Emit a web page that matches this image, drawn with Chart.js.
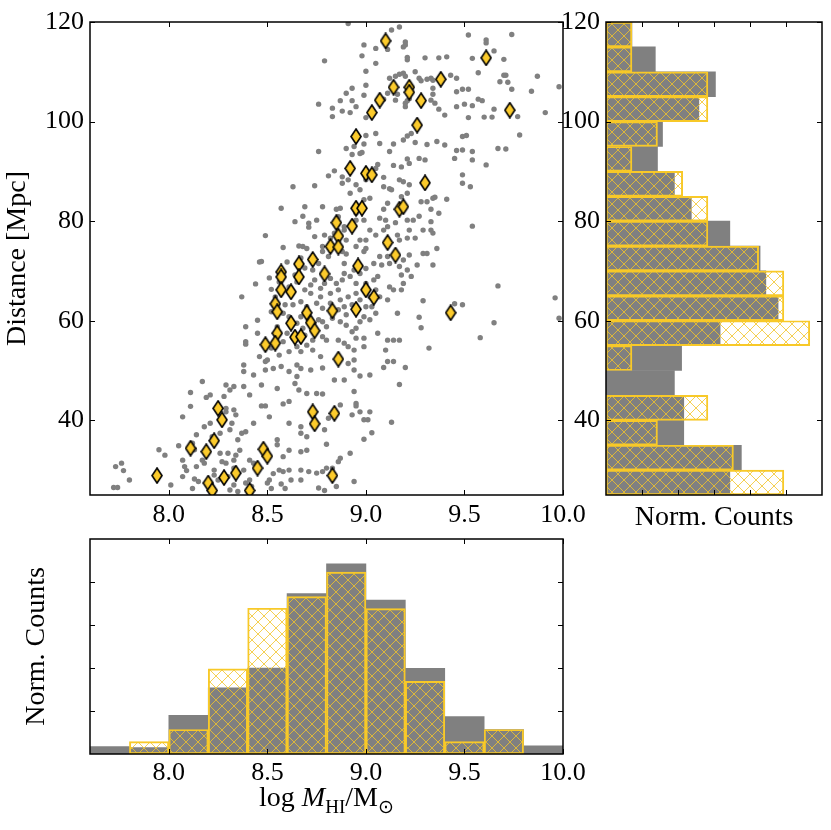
<!DOCTYPE html>
<html>
<head>
<meta charset="utf-8">
<script src="https://cdn.jsdelivr.net/npm/chart.js@4.4.1/dist/chart.umd.min.js"></script>
<style>
  body { margin: 0; background: #fff; }
  #wrap { position: relative; width: 831px; height: 830px; overflow: hidden; }
  canvas { position: absolute; }
  #xlab {
    position: absolute; left: 90px; width: 473px; top: 782px;
    text-align: center; font: 28px 'Liberation Serif', serif; color: #000; line-height: 30px;
  }
  #xlab sub { font-size: 0.68em; vertical-align: -0.35em; line-height: 0; }
</style>
</head>
<body>
<div id="wrap">
  <canvas id="main" width="600" height="540" style="left:0;top:0"></canvas>
  <canvas id="side" width="291" height="540" style="left:540px;top:0"></canvas>
  <canvas id="bottom" width="600" height="310" style="left:0;top:520px"></canvas>
  <div id="xlab">log <i>M</i><sub>HI</sub>/M<sub>⊙</sub></div>
</div>
<script>
// full sample: [log MHI, distance]
const grayPoints = [
  [8.91,119.7],[9.17,119.0],[9.13,118.4],[9.20,116.0],[9.20,115.4],[9.11,114.5],[9.19,115.0],[9.05,114.7],[8.99,115.4],[8.98,113.2],
  [8.79,112.2],[9.21,112.9],[9.21,112.4],[9.30,112.8],[9.37,112.8],[9.41,113.0],[9.05,111.7],[9.00,110.1],[9.12,108.7],[9.15,109.1],
  [9.17,109.5],[9.19,109.7],[9.20,109.1],[9.25,110.0],[9.27,108.7],[9.28,108.2],[9.31,108.5],[9.33,108.7],[9.34,108.3],[9.43,109.3],
  [9.46,108.7],[9.49,106.5],[9.52,106.5],[9.54,112.7],[9.57,109.8],[9.61,116.4],[9.61,115.8],[9.65,114.2],[9.70,112.5],[9.74,117.5],
  [9.52,117.4],[9.70,109.3],[9.71,109.3],[9.68,108.0],[9.72,107.9],[9.74,106.5],[9.87,109.1],[9.84,106.1],[9.98,107.0],[8.90,105.7],
  [8.93,106.7],[9.00,107.3],[8.99,105.3],[8.93,104.2],[8.87,104.2],[8.83,102.7],[8.83,101.0],[8.76,103.5],[8.88,102.1],[8.92,101.8],
  [8.95,103.0],[9.00,100.8],[9.09,104.5],[9.11,105.7],[9.15,104.3],[9.16,105.5],[9.20,103.7],[9.21,104.2],[9.22,104.6],[9.20,103.0],
  [9.34,106.7],[9.34,105.5],[9.33,104.3],[9.35,103.7],[9.37,102.5],[9.40,101.3],[9.46,103.0],[9.50,103.5],[9.54,103.2],[9.57,104.5],
  [9.59,104.2],[9.65,102.5],[9.64,100.9],[9.60,100.9],[9.52,100.8],[9.46,106.0],[9.77,101.0],[9.78,97.3],[9.91,101.8],[9.67,94.6],
  [9.71,94.5],[9.61,91.3],[9.54,92.3],[9.54,94.0],[9.49,94.3],[9.46,94.2],[9.45,92.6],[9.49,89.3],[9.49,87.6],[9.53,86.9],
  [9.51,97.2],[9.49,97.0],[9.40,95.3],[9.36,96.0],[9.31,95.4],[9.25,95.8],[9.23,97.6],[9.21,97.1],[9.19,96.3],[9.14,95.5],
  [9.12,94.0],[9.07,95.6],[9.05,97.6],[9.00,97.2],[8.99,95.5],[8.98,93.8],[8.97,93.6],[8.94,95.0],[8.93,93.4],[8.90,94.6],
  [8.84,90.1],[8.81,89.1],[8.88,88.9],[8.91,88.3],[8.88,87.6],[8.76,94.0],[8.74,87.1],[8.92,85.6],[8.95,87.3],[8.99,84.3],
  [8.97,86.3],[9.02,84.6],[9.00,88.3],[9.06,91.4],[9.05,90.6],[9.09,88.8],[9.09,86.9],[9.12,86.5],[9.13,86.3],[9.14,91.2],
  [9.18,90.9],[9.22,91.6],[9.21,92.5],[9.27,92.6],[9.30,92.3],[9.17,88.3],[9.19,87.9],[9.22,87.3],[9.21,85.6],[9.18,84.9],
  [9.28,83.9],[9.31,83.9],[9.33,82.4],[9.34,84.6],[9.35,84.8],[9.37,81.6],[9.41,84.4],[9.11,83.6],[9.09,82.4],[9.07,80.6],
  [9.10,80.2],[9.11,78.9],[9.15,79.7],[9.21,80.2],[9.24,80.2],[9.22,78.2],[9.29,78.2],[9.27,81.0],[9.33,78.2],[9.34,77.6],
  [9.25,76.6],[9.21,76.6],[9.17,76.2],[9.11,75.5],[9.05,77.2],[9.02,78.2],[8.99,80.2],[9.00,76.2],[8.97,76.2],[8.95,74.9],
  [8.89,78.2],[8.84,77.6],[8.82,76.6],[8.79,77.2],[8.78,74.9],[8.74,76.9],[8.75,80.2],[8.78,82.9],[8.87,82.6],[8.85,82.4],
  [8.89,78.9],[8.86,80.9],[8.95,81.6],[8.95,80.2],[9.09,78.2],[9.16,77.2],[9.36,74.5],[9.54,79.0],[9.33,79.9],[9.00,74.5],
  [8.90,76.2],
  [8.63,86.9],[8.57,82.6],[8.69,82.9],[8.68,81.0],[8.64,79.9],[8.71,79.6],[8.71,78.8],[8.49,77.1],[8.58,74.7],[8.66,75.0],
  [8.68,74.9],[8.70,74.5],
  [7.73,30.7],[7.76,31.4],[7.77,29.9],[7.80,28.0],[7.72,26.5],[7.74,26.5],[7.95,34.1],[7.98,33.0],[7.94,28.7],[8.01,27.0],
  [8.05,34.9],[8.07,32.0],[8.08,30.7],[8.09,29.9],[8.07,28.7],[8.07,40.7],[8.11,45.6],[8.11,42.8],[8.13,34.1],[8.14,37.1],
  [8.12,35.4],[8.13,28.2],[8.15,27.7],[8.14,30.7],[8.12,26.3],
  [8.46,71.8],[8.47,71.9],[8.67,72.6],[8.69,70.6],[8.64,69.2],[8.60,71.8],[8.51,68.6],
  [8.44,67.4],[8.37,64.8],[8.52,66.3],[8.54,64.8],[8.57,65.5],[8.61,66.8],[8.65,67.8],[8.52,61.8],[8.59,63.2],[8.63,63.2],
  [8.67,63.8],[8.67,60.8],[8.65,59.5],[8.60,57.5],[8.58,55.8],[8.61,53.8],[8.65,54.8],[8.67,53.8],[8.70,55.1],[8.56,53.1],
  [8.52,54.5],[8.50,52.1],[8.49,51.8],[8.46,52.8],[8.45,57.5],[8.45,60.1],[8.39,58.8],[8.39,55.8],[8.39,55.3],[8.38,51.1],
  [8.38,49.8],[8.43,49.1],[8.49,50.1],[8.53,50.4],[8.57,50.8],[8.61,49.8],[8.65,51.1],[8.67,50.4],[8.65,48.8],[8.64,47.4],
  [8.66,46.1],[8.70,45.4],[8.55,46.4],[8.47,47.1],[8.41,45.1],[8.38,46.8],[8.33,46.8],[8.31,46.1],[8.29,47.1],[8.28,44.8],
  [8.21,45.1],[8.19,44.6],[8.17,47.8],[8.47,42.9],[8.49,42.9],[8.58,43.3],[8.61,43.8],[8.51,40.7],[8.43,39.4],[8.39,37.7],
  [8.37,37.4],[8.33,42.1],[8.34,41.1],[8.29,42.4],[8.29,41.7],[8.21,39.4],[8.18,38.7],[8.22,36.7],[8.26,37.4],[8.31,38.1],
  [8.32,39.4],[8.35,36.1],[8.36,34.0],[8.34,33.0],[8.30,33.4],[8.26,33.4],[8.27,31.7],[8.29,31.4],[8.33,32.0],[8.33,30.4],
  [8.30,28.7],[8.25,28.0],[8.23,29.0],[8.23,30.0],[8.18,31.4],[8.17,32.0],[8.38,30.0],[8.41,32.0],[8.43,31.4],[8.41,28.0],
  [8.42,26.7],[8.39,27.4],[8.33,27.0],[8.31,26.0],[8.35,25.7],[8.50,27.4],[8.51,28.0],[8.53,29.3],[8.56,30.0],[8.58,29.7],
  [8.61,30.0],[8.61,34.0],[8.58,32.7],[8.67,33.7],[8.70,34.0],[8.55,36.1],[8.55,35.1],[8.61,39.4],[8.67,37.4],[8.70,36.7],
  [8.67,38.7],[8.52,26.3],[8.59,26.3],[8.57,27.2],[8.67,28.0],[8.67,30.0],[8.62,28.0],[8.71,29.7],
  [8.56,67.8],[8.58,61.5],[8.61,60.8],[8.55,58.8],[8.68,58.5],[8.71,60.1],[8.70,62.8],[8.69,66.2],[8.72,67.2],[8.56,57.5],
  [8.63,56.5],[8.69,57.1],
  [8.78,73.9],[8.81,72.9],[8.88,73.9],[8.90,73.4],[8.99,73.9],[9.07,72.9],[9.11,72.9],[9.12,71.5],[9.08,71.2],[9.04,71.5],
  [9.00,70.5],[8.97,69.5],[8.94,70.2],[8.92,68.9],[8.89,69.5],[8.88,68.2],[8.85,67.5],[8.82,68.5],[8.79,67.5],[8.77,66.5],
  [8.74,68.2],[8.73,70.2],[8.76,71.5],[8.72,65.5],[8.77,64.8],[8.82,65.5],[8.86,66.2],[8.87,64.2],[8.91,64.8],[8.93,63.2],
  [8.97,64.2],[9.00,62.8],[9.03,62.8],[9.05,61.5],[9.02,60.2],[8.99,60.8],[8.97,59.8],[8.95,58.5],[8.93,57.8],[8.90,59.1],
  [8.87,59.8],[8.83,60.5],[8.80,58.8],[8.78,59.8],[8.76,60.2],[8.73,56.1],[8.78,56.8],[8.80,56.1],[8.77,52.8],[8.78,50.5],
  [8.72,50.1],[8.91,54.8],[8.94,54.1],[8.99,54.8],[8.95,56.5],[8.99,56.5],[8.89,55.5],[8.86,56.1],[8.94,52.1],[8.91,51.4],
  [8.94,50.1],[8.97,48.9],[9.02,49.1],[8.89,48.1],[8.84,48.1],[8.94,45.8],[8.75,45.4],[8.78,45.3],[8.87,43.1],[8.85,41.4],
  [8.81,40.4],[8.79,38.1],[8.80,35.2],[8.87,32.4],[8.92,33.4],[8.86,31.7],[8.83,30.4],[8.80,30.4],[8.78,29.7],[8.75,29.4],
  [8.76,26.4],[8.79,25.9],[8.85,26.7],[8.94,27.7],[8.95,43.4],[8.95,42.9],[8.97,41.7],[9.02,41.7],[8.93,41.1],[8.99,40.1],
  [9.01,40.1],[9.03,37.5],[8.99,36.2],[9.13,39.6],[9.17,47.2],[9.20,50.6],[9.14,51.8],[9.11,51.8],[9.09,50.6],[9.10,54.1],
  [9.06,57.5],[9.11,56.1],[9.14,56.1],[9.17,56.1],[9.16,61.5],[9.11,64.2],[9.07,64.8],[9.14,66.2],[9.18,66.2],[9.19,67.5],
  [9.18,69.2],[9.23,68.9],[9.21,70.2],[9.17,70.9],[9.15,73.2],[9.19,72.2],[9.22,73.2],[9.26,71.2],[9.29,73.5],[9.31,73.5],
  [9.34,71.2],[9.29,64.0],[9.27,60.7],[9.28,58.6],[9.32,54.5],[9.45,63.4],[9.49,63.2],[9.67,67.0],[9.65,59.6],[9.58,56.6],
  [9.96,64.6],[9.98,60.5],[8.89,71.5],[9.00,67.5],[8.95,67.5],[9.04,68.2],[9.06,68.9],[9.12,66.8],[9.05,66.2],[9.02,64.8],
  [8.99,66.2],[8.82,63.5],[8.78,62.5],[8.75,63.5],[8.83,62.2],[8.74,57.5],[8.73,54.1],[8.95,65.5],[8.89,62.8],[8.90,61.2],
  [8.86,62.2]
];

// sub-sample shown as diamonds
const goldPoints = [
  [9.10,116.2],[9.61,112.8],[9.38,108.5],[9.14,106.9],[9.22,106.9],[9.22,105.9],[9.07,104.3],[9.28,104.2],[9.03,101.8],[9.73,102.3],
  [9.26,99.3],[8.95,97.0],[8.92,90.6],[9.00,89.6],[9.03,89.3],[9.30,87.7],[8.95,82.6],[8.98,82.6],[9.17,82.4],[9.19,82.9],
  [8.85,79.7],[8.93,79.0],[8.86,77.0],[9.11,75.7],[8.82,74.9],[8.86,74.8],
  [8.57,69.8],[8.57,68.8],[8.66,71.4],[8.66,68.8],
  [8.57,66.2],[8.62,65.8],[8.54,63.4],[8.55,61.8],[8.62,59.5],[8.55,57.5],[8.54,55.5],[8.49,55.2],[8.64,56.7],[8.67,56.8],
  [8.70,61.6],[8.25,42.4],[8.27,40.1],[8.23,35.9],[8.19,33.7],[8.48,34.2],[8.50,32.8],[8.45,30.4],[8.34,29.4],[8.28,28.5],
  [8.20,27.4],[8.22,25.9],[8.41,25.9],
  [8.72,59.6],[8.74,58.0],[8.83,62.0],[8.95,62.3],[8.86,52.3],[8.73,41.7],[8.74,39.3],[8.84,41.4],[8.83,28.9],
  [8.73,72.3],[8.79,69.4],[8.96,71.0],[9.15,73.2],[9.00,66.2],[9.04,64.7],[9.43,61.6],
  [7.94,28.9],[8.11,34.4]
];

// bottom histogram (bins of 0.2 dex)
const massBins = [7.7, 7.9, 8.1, 8.3, 8.5, 8.7, 8.9, 9.1, 9.3, 9.5, 9.7, 9.9];
const massAll  = [0.17, 0.15, 0.90, 1.54, 2.00, 3.73, 4.42, 3.58, 1.99, 0.87, 0.57, 0.19];
const massGold = [0, 0.29, 0.57, 1.98, 3.39, 3.66, 4.23, 3.38, 1.69, 0.29, 0.57, 0];

// side histogram (bins of 5 Mpc)
const distBins = [27.5, 32.5, 37.5, 42.5, 47.5, 52.5, 57.5, 62.5, 67.5, 72.5, 77.5, 82.5, 87.5, 92.5, 97.5, 102.5, 107.5, 112.5, 117.5];
const distAll  = [3.44, 3.76, 2.16, 2.16, 1.90, 2.10, 3.17, 4.78, 4.44, 4.28, 3.44, 2.37, 1.90, 1.43, 1.57, 2.58, 3.04, 1.37, 0.72];
const distGold = [4.94, 3.54, 1.43, 2.83, 0, 0.72, 5.66, 4.94, 4.94, 4.24, 2.83, 2.83, 2.13, 0.72, 1.43, 2.83, 2.83, 0.72, 0.72];

const massTicks = [8.0, 8.5, 9.0, 9.5, 10.0];
const distTicks = [40, 60, 80, 100, 120];
const countTicksSide = [1, 2, 3, 4, 5];
const countTicksBottom = [1, 2, 3, 4];

const GOLD = '#F8C928';
const GRAY = '#808080';

Chart.defaults.font.family = "'Liberation Serif', serif";
Chart.defaults.font.size = 26;
Chart.defaults.color = '#000';

function hatch(color) {
  const c = document.createElement('canvas');
  c.width = c.height = 12;
  const g = c.getContext('2d');
  g.strokeStyle = color;
  g.lineWidth = 1;
  g.beginPath();
  g.moveTo(-1, -1); g.lineTo(13, 13);
  g.moveTo(13, -1); g.lineTo(-1, 13);
  g.stroke();
  return g.createPattern(c, 'repeat');
}

function diamond() {
  const c = document.createElement('canvas');
  c.width = 12; c.height = 17;
  const g = c.getContext('2d');
  g.beginPath();
  g.moveTo(6, 1); g.lineTo(11, 8.5); g.lineTo(6, 16); g.lineTo(1, 8.5);
  g.closePath();
  g.fillStyle = '#FCCB2C';
  g.fill();
  g.lineWidth = 1.6;
  g.strokeStyle = '#000';
  g.stroke();
  return c;
}

// black frame plus inward ticks on all four sides
const frameTicks = {
  id: 'frameTicks',
  afterDatasetsDraw(chart) {
    const {ctx, chartArea: a, scales} = chart;
    ctx.save();
    ctx.strokeStyle = '#000';
    ctx.lineWidth = 1;
    const L = 5;
    Object.values(scales).forEach(s => {
      s.ticks.forEach(t => {
        const p = Math.round(s.getPixelForValue(t.value)) + 0.5;
        ctx.beginPath();
        if (s.isHorizontal()) {
          ctx.moveTo(p, a.top); ctx.lineTo(p, a.top + L);
          ctx.moveTo(p, a.bottom); ctx.lineTo(p, a.bottom - L);
        } else {
          ctx.moveTo(a.left, p); ctx.lineTo(a.left + L, p);
          ctx.moveTo(a.right, p); ctx.lineTo(a.right - L, p);
        }
        ctx.stroke();
      });
    });
    ctx.lineWidth = 1.5;
    ctx.strokeRect(a.left, a.top, a.right - a.left, a.bottom - a.top);
    ctx.restore();
  }
};

const setTicks = vals => s => { s.ticks = vals.map(v => ({value: v})); };
const noGrid = {display: false, drawTicks: false};
const titleFont = {size: 28};

// main scatter
new Chart(document.getElementById('main'), {
  type: 'scatter',
  data: {
    datasets: [{
      data: goldPoints.map(p => ({x: p[0], y: p[1]})),
      pointStyle: diamond(),
      order: 0
    }, {
      data: grayPoints.map(p => ({x: p[0], y: p[1]})),
      backgroundColor: GRAY,
      borderWidth: 0,
      pointRadius: 2.7,
      order: 1
    }]
  },
  options: {
    responsive: false, animation: false, events: [],
    layout: {padding: {top: 22, right: 37, left: 0, bottom: 0}},
    plugins: {legend: {display: false}, tooltip: {enabled: false}},
    scales: {
      x: {
        type: 'linear', min: 7.6, max: 10.0,
        grid: noGrid, border: {display: false},
        afterBuildTicks: setTicks(massTicks),
        afterFit: s => { s.height = 45; },
        ticks: {padding: 5, callback: v => v.toFixed(1)}
      },
      y: {
        type: 'linear', min: 25, max: 120,
        grid: noGrid, border: {display: false},
        afterBuildTicks: setTicks(distTicks),
        afterFit: s => { s.width = 90; },
        ticks: {padding: 6},
        title: {display: true, text: 'Distance [Mpc]', font: titleFont, padding: {top: 1, bottom: 0}}
      }
    }
  },
  plugins: [frameTicks]
});

// distance histogram on the right
new Chart(document.getElementById('side'), {
  type: 'bar',
  data: {
    datasets: [{
      data: distBins.map((d, i) => ({x: distGold[i], y: d})),
      backgroundColor: hatch('rgba(242,196,40,0.8)'),
      borderColor: GOLD, borderWidth: 1.3, borderSkipped: false,
      grouped: false, barPercentage: 1, categoryPercentage: 1, order: 0
    }, {
      data: distBins.map((d, i) => ({x: distAll[i], y: d})),
      backgroundColor: GRAY, borderWidth: 0,
      grouped: false, barPercentage: 1, categoryPercentage: 1, order: 1
    }]
  },
  options: {
    indexAxis: 'y',
    responsive: false, animation: false, events: [],
    layout: {padding: {top: 22, right: 9, left: 0, bottom: 0}},
    plugins: {legend: {display: false}, tooltip: {enabled: false}},
    scales: {
      x: {
        type: 'linear', min: 0, max: 6,
        grid: noGrid, border: {display: false},
        afterBuildTicks: setTicks(countTicksSide),
        afterFit: s => { s.height = 45; },
        ticks: {display: false},
        title: {display: true, text: 'Norm. Counts', font: titleFont, padding: {top: 0, bottom: 6}}
      },
      y: {
        type: 'linear', min: 25, max: 120, offset: false,
        grid: noGrid, border: {display: false},
        afterBuildTicks: setTicks(distTicks),
        afterFit: s => { s.width = 66; },
        ticks: {padding: 6}
      }
    }
  },
  plugins: [frameTicks]
});

// mass histogram at the bottom
new Chart(document.getElementById('bottom'), {
  type: 'bar',
  data: {
    datasets: [{
      data: massBins.map((m, i) => ({x: m, y: massGold[i]})),
      backgroundColor: hatch('rgba(242,196,40,0.8)'),
      borderColor: GOLD, borderWidth: 1.3, borderSkipped: false,
      grouped: false, barPercentage: 1, categoryPercentage: 1, order: 0
    }, {
      data: massBins.map((m, i) => ({x: m, y: massAll[i]})),
      backgroundColor: GRAY, borderWidth: 0,
      grouped: false, barPercentage: 1, categoryPercentage: 1, order: 1
    }]
  },
  options: {
    responsive: false, animation: false, events: [],
    layout: {padding: {top: 19, right: 37, left: 0, bottom: 0}},
    plugins: {legend: {display: false}, tooltip: {enabled: false}},
    scales: {
      x: {
        type: 'linear', min: 7.6, max: 10.0, offset: false,
        grid: noGrid, border: {display: false},
        afterBuildTicks: setTicks(massTicks),
        afterFit: s => { s.height = 76; },
        ticks: {padding: 4, callback: v => v.toFixed(1)}
      },
      y: {
        type: 'linear', min: 0, max: 5,
        grid: noGrid, border: {display: false},
        afterBuildTicks: setTicks(countTicksBottom),
        afterFit: s => { s.width = 90; },
        ticks: {display: false},
        title: {display: true, text: 'Norm. Counts', font: titleFont, padding: {top: 20, bottom: 0}}
      }
    }
  },
  plugins: [frameTicks]
});
</script>
</body>
</html>
